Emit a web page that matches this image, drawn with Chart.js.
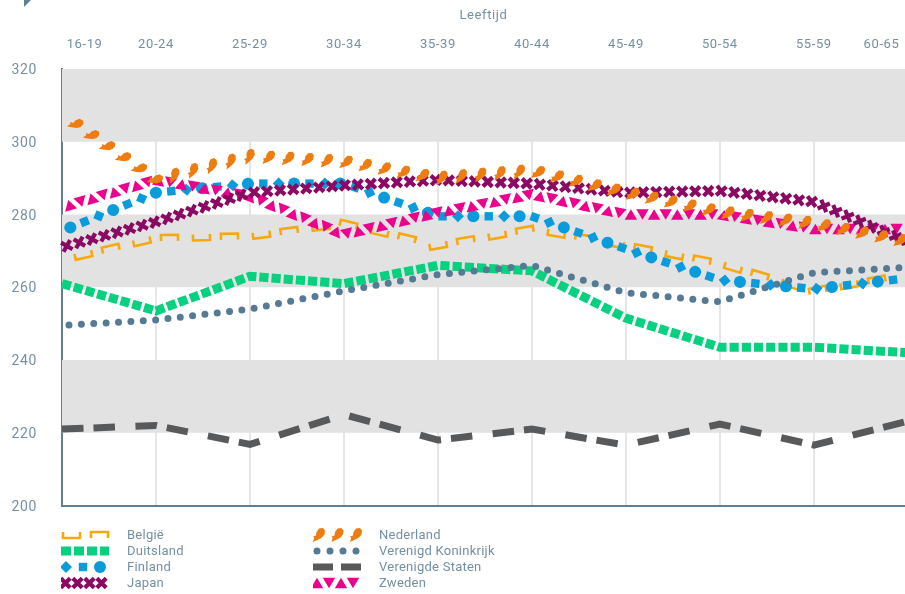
<!DOCTYPE html>
<html lang="nl">
<head>
<meta charset="utf-8">
<title>Leeftijd</title>
<script src="https://cdn.jsdelivr.net/npm/chart.js@4"></script>
<style>
  html, body { margin: 0; padding: 0; background: #fff; }
  #wrap { position: relative; width: 905px; height: 594px; overflow: hidden; }
  #corner { position: absolute; left: 24px; top: 0; width: 7px; height: 7px; background: #5f7f96; clip-path: polygon(0 0, 100% 0, 0 100%); }
  .legend-row { position: absolute; height: 16px; font: 13px Roboto, sans-serif; letter-spacing: 0.25px; color: #7590a4; line-height: 16px; white-space: nowrap; }
  .legend-row canvas { position: absolute; left: 0; top: 0; }
  .legend-row span { position: absolute; left: 66px; top: 0; }
</style>
</head>
<body>
<div id="wrap">
  <canvas id="chart" width="905" height="594"></canvas>
  <div id="corner"></div>
  <div id="legend"></div>
</div>
<script>
// Age groups, placed at the middle age of the group on a linear axis
const ageGroups = ["16-19", "20-24", "25-29", "30-34", "35-39", "40-44", "45-49", "50-54", "55-59", "60-65"];
const ages = [17, 22, 27, 32, 37, 42, 47, 52, 57, 62];
const ageLabelAt = [18.2, 22, 27, 32, 37, 42, 47, 52, 57, 60.6];

// Scores per country
const belgie = [267.5, 273.5, 274, 277.5, 271.5, 276, 271.5, 266.5, 259, 263.5];
const duitsland = [261, 253.5, 263, 261, 266, 264.5, 251.5, 243.5, 243.5, 242];
const finland = [275.5, 286, 288.5, 288.5, 279.5, 279.5, 270.5, 262, 259.5, 262.5];
const japan = [271, 278, 286, 288, 289.5, 288.5, 286, 286.5, 283.5, 272.5];
const nederland = [307.5, 289.5, 296, 294.5, 290, 292, 286, 280.7, 277.5, 272.5];
const verenigdKoninkrijk = [249.5, 251, 254, 259, 263.5, 266, 258.5, 256, 264, 265.5];
const verenigdeStaten = [221, 222, 216.8, 225, 218, 221, 216.6, 222.4, 216.6, 223.2];
const zweden = [282, 289.5, 285, 274.5, 280.5, 285.5, 280, 280, 276, 276];

const yTicks = [200, 220, 240, 260, 280, 300, 320];
const greyBands = [[300, 320], [260, 280], [220, 240]];

const AXIS_COLOR = "#5f7f96";
const TEXT_COLOR = "#7590a4";
const FONT_FAMILY = "Roboto, sans-serif";

// Symbol stamps, drawn around 0,0 with the x axis along the line
function stampBracket(c, n) {
  const side = n % 2 === 0 ? 1 : -1;
  const shift = n % 2 === 0 ? 0 : -2;
  c.strokeStyle = "#f7a80f";
  c.lineWidth = 2.6;
  c.lineJoin = "miter";
  c.beginPath();
  c.moveTo(shift - 8.5, -3 * side);
  c.lineTo(shift - 8.5, 3 * side);
  c.lineTo(shift + 8.5, 3 * side);
  c.lineTo(shift + 8.5, -3 * side);
  c.stroke();
}

function stampFinland(c, n) {
  c.fillStyle = "#0a9bdd";
  const kind = n % 3;
  c.beginPath();
  if (kind === 0) {
    c.arc(0, 0, 6, 0, Math.PI * 2);
  } else if (kind === 1) {
    c.rect(-4.2, -4.2, 8.4, 8.4);
  } else {
    c.moveTo(0, -6);
    c.lineTo(6, 0);
    c.lineTo(0, 6);
    c.lineTo(-6, 0);
    c.closePath();
  }
  c.fill();
}

function stampCross(c) {
  c.strokeStyle = "#8a0a63";
  c.lineWidth = 4.2;
  c.beginPath();
  c.moveTo(-4.7, -4.7);
  c.lineTo(4.7, 4.7);
  c.moveTo(4.7, -4.7);
  c.lineTo(-4.7, 4.7);
  c.stroke();
}

function stampTriangle(c, n) {
  const side = n % 2 === 0 ? 1 : -1;
  c.fillStyle = "#ec008c";
  c.beginPath();
  c.moveTo(-6.2, 5.2 * side);
  c.lineTo(6.2, 5.2 * side);
  c.lineTo(0, -5.2 * side);
  c.closePath();
  c.fill();
}

// Small map of the Netherlands, leaning to the upper right
function stampMap(c) {
  c.fillStyle = "#ee7d11";
  c.beginPath();
  c.moveTo(-6, 7);
  c.lineTo(-4.8, 3);
  c.lineTo(-6, 1.5);
  c.lineTo(-3, 0.5);
  c.lineTo(-2.5, -3);
  c.lineTo(0, -6.5);
  c.lineTo(4, -7);
  c.lineTo(6, -4.5);
  c.lineTo(5.5, -0.5);
  c.lineTo(3, 2.5);
  c.lineTo(-0.5, 4.5);
  c.closePath();
  c.fill();
}

// Walk a polyline and put a stamp every `pitch` pixels
function stampAlong(c, pts, pitch, start, stamp) {
  let next = start;
  let walked = 0;
  let n = 0;
  for (let i = 1; i < pts.length; i++) {
    const dx = pts[i].x - pts[i - 1].x;
    const dy = pts[i].y - pts[i - 1].y;
    const len = Math.hypot(dx, dy);
    while (next <= walked + len) {
      const t = (next - walked) / len;
      c.save();
      c.translate(pts[i - 1].x + dx * t, pts[i - 1].y + dy * t);
      c.rotate(Math.atan2(dy, dx));
      stamp(c, n);
      c.restore();
      n++;
      next += pitch;
    }
    walked += len;
  }
}

// Line look per country; stamped lines have no stroke of their own
const lineLooks = {
  "België": { stamp: stampBracket, pitch: 30, start: 22, order: 7, swatchPitch: 30, swatchStart: 10.5 },
  "Duitsland": { color: "#07d07f", width: 9, dash: [9.2, 3], swatchDash: [10, 3], cap: "butt", order: 6 },
  "Finland": { stamp: stampFinland, pitch: 15.4, start: 9, order: 5, swatchPitch: 17, swatchStart: 5, swatchReverse: true },
  "Japan": { stamp: stampCross, pitch: 13, start: 5, order: 2, swatchPitch: 12, swatchStart: 4.5 },
  "Nederland": { stamp: stampMap, pitch: 19.4, start: 17, order: 1, swatchPitch: 18.5, swatchStart: 6 },
  "Verenigd Koninkrijk": { color: "#557a93", width: 7, dash: [0, 12.4], dashOffset: 5.4, swatchDash: [0, 13], swatchFrom: 4, cap: "round", order: 4 },
  "Verenigde Staten": { color: "#58595b", width: 7, dash: [21.5, 10, 21.5, 20.5], swatchDash: [20, 8], cap: "butt", order: 8 },
  "Zweden": { stamp: stampTriangle, pitch: 11.6, start: 8, order: 3, swatchPitch: 12, swatchStart: 4 },
};

const seriesNames = Object.keys(lineLooks);
const seriesValues = [belgie, duitsland, finland, japan, nederland, verenigdKoninkrijk, verenigdeStaten, zweden];

const datasets = seriesNames.map((name, i) => {
  const look = lineLooks[name];
  return {
    label: name,
    data: ages.map((age, j) => ({ x: age, y: seriesValues[i][j] })),
    order: look.order,
    showLine: !look.stamp,
    borderColor: look.color || "transparent",
    borderWidth: look.width || 0,
    borderDash: look.dash || [],
    borderDashOffset: look.dashOffset || 0,
    borderCapStyle: look.cap || "butt",
    borderJoinStyle: "miter",
    tension: 0,
    pointRadius: 0,
    clip: { left: 3, right: 0, top: 0, bottom: 0 },
    stampLook: look.stamp ? look : null,
  };
});

// Grey bands behind the lines, placed through the y scale
const bandPlugin = {
  id: "greyBands",
  afterLayout(chart) {
    // y labels sit a little under their tick in the original
    chart.scales.y.getLabelItems().forEach((item) => { item.options.translation[1] += 1.5; });
  },
  beforeDraw(chart) {
    chart.ctx.letterSpacing = "0.6px";
  },
  beforeDatasetsDraw(chart) {
    const { ctx, chartArea, scales } = chart;
    ctx.save();
    ctx.fillStyle = "#e2e2e2";
    greyBands.forEach(([low, high]) => {
      const top = scales.y.getPixelForValue(high);
      const bottom = scales.y.getPixelForValue(low);
      ctx.fillRect(chartArea.left, top, chartArea.right - chartArea.left, bottom - top);
    });
    ctx.restore();
  },
};

// Stamps the symbols along the points that the library placed
const stampPlugin = {
  id: "stampLines",
  afterDatasetDraw(chart, args) {
    const look = chart.data.datasets[args.index].stampLook;
    if (!look) return;
    stampAlong(chart.ctx, args.meta.data, look.pitch, look.start, look.stamp);
  },
};

new Chart(document.getElementById("chart"), {
  type: "line",
  data: { datasets },
  plugins: [bandPlugin, stampPlugin],
  options: {
    responsive: false,
    animation: false,
    layout: { padding: { bottom: 88.5, top: 0, left: 0, right: 0 } },
    plugins: { legend: { display: false }, tooltip: { enabled: false } },
    scales: {
      x: {
        type: "linear",
        position: "top",
        min: 17,
        max: 61.85,
        afterFit: (s) => {
          s.height = 69;
          s.paddingLeft = 0;
          s.paddingRight = 0;
        },
        afterBuildTicks: (s) => { s.ticks = ageLabelAt.map((value) => ({ value })); },
        title: {
          display: true,
          text: "Leeftijd",
          color: TEXT_COLOR,
          font: { family: FONT_FAMILY, size: 13 },
          padding: { top: 8, bottom: 0 },
        },
        border: { display: false },
        grid: {
          drawTicks: false,
          lineWidth: 2,
          color: (ctx) => (ctx.index === 0 || ctx.index === ageLabelAt.length - 1 ? "transparent" : "#e6e6e6"),
        },
        ticks: {
          autoSkip: false,
          maxRotation: 0,
          padding: 16,
          color: TEXT_COLOR,
          font: { family: FONT_FAMILY, size: 13 },
          callback: (value, index) => ageGroups[index],
        },
      },
      y: {
        min: 200,
        max: 320,
        afterFit: (s) => {
          s.width = 62;
          s.paddingTop = 0;
          s.paddingBottom = 0;
        },
        afterBuildTicks: (s) => { s.ticks = yTicks.map((value) => ({ value })); },
        border: { display: true, color: AXIS_COLOR, width: 2 },
        grid: {
          drawTicks: false,
          lineWidth: 2,
          color: (ctx) => (ctx.tick && ctx.tick.value === 200 ? AXIS_COLOR : "transparent"),
        },
        ticks: {
          padding: 25,
          color: TEXT_COLOR,
          font: { family: FONT_FAMILY, size: 14 },
        },
      },
    },
  },
});

// Legend in two columns, with swatches drawn by the same stamps
const legendColumns = [61, 313];
const legendTops = [527, 543, 559, 575];

function drawSwatch(canvas, look) {
  const c = canvas.getContext("2d");
  const line = [{ x: 0, y: 8 }, { x: 48, y: 8 }];
  if (look.stamp) {
    const stamp = look.swatchReverse ? (cc, n) => look.stamp(cc, 2 - n) : look.stamp;
    stampAlong(c, line, look.swatchPitch, look.swatchStart, stamp);
  } else {
    c.strokeStyle = look.color;
    c.lineWidth = look.width;
    c.lineCap = look.cap;
    c.setLineDash(look.swatchDash);
    c.beginPath();
    c.moveTo(look.swatchFrom || 0, 8);
    c.lineTo(48, 8);
    c.stroke();
  }
}

seriesNames.forEach((name, i) => {
  const row = document.createElement("div");
  row.className = "legend-row";
  row.style.left = legendColumns[Math.floor(i / 4)] + "px";
  row.style.top = legendTops[i % 4] + "px";
  const swatch = document.createElement("canvas");
  swatch.width = 50;
  swatch.height = 16;
  const text = document.createElement("span");
  text.textContent = name;
  row.append(swatch, text);
  document.getElementById("legend").append(row);
  drawSwatch(swatch, lineLooks[name]);
});
</script>
</body>
</html>
